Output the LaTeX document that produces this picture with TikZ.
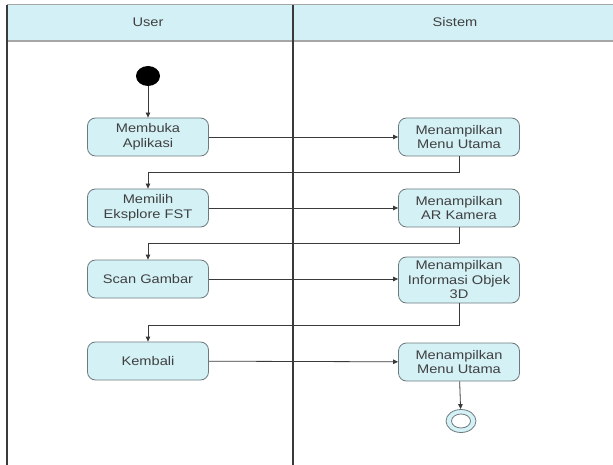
\documentclass[tikz,border=0pt]{standalone}
\usepackage{fontspec}
\setmainfont{Liberation Sans}[FakeStretch=1.17]
\usetikzlibrary{arrows.meta,shapes.geometric}
\definecolor{lanefill}{HTML}{D2F0F5}
\definecolor{boxfill}{HTML}{D4F1F6}
\definecolor{boxline}{HTML}{6E7B7E}
\definecolor{lineclr}{HTML}{3A3A3A}
\definecolor{txtclr}{HTML}{404040}
\begin{document}
\begin{tikzpicture}[x=1pt,y=-1pt,
  act/.style={draw=boxline,fill=boxfill,rounded corners=8pt,line width=0.8pt,
    minimum width=121pt,minimum height=38pt,align=center,inner sep=1pt,
    text=txtclr,font=\fontsize{12.5}{14.5}\selectfont},
  flow/.style={draw=lineclr,line width=0.8pt,-{Triangle[length=5pt,width=4.5pt]}},
  lane/.style={draw=lineclr,line width=1.2pt},
  hdr/.style={text=txtclr,font=\fontsize{12.5}{14.5}\selectfont}]
\useasboundingbox (0,0) rectangle (613,465);
% swimlane header
\fill[lanefill] (7,5) rectangle (613,41);
\draw[gray!70,line width=1pt] (7,5) -- (613,5);
\draw[gray!70,line width=1.4pt] (7,41) -- (613,41);
\draw[lane] (7,5) -- (7,465);
\draw[lane] (293,5) -- (293,465);
\node[hdr] (huser) at (148,22) {User};
\node[hdr] (hsis) at (455,22) {Sistem};
% start and end
\node[ellipse,fill=black,minimum width=24pt,minimum height=20pt,inner sep=0pt] (start) at (148,76) {};
\node[ellipse,draw=boxline,fill=boxfill,line width=0.8pt,minimum width=30pt,minimum height=23pt,inner sep=0pt] (stop) at (461,421) {};
\node[ellipse,draw=boxline,fill=white,line width=0.8pt,minimum width=19pt,minimum height=14pt,inner sep=0pt] (stopin) at (461,421) {};
% activities, user lane
\node[act] (a1) at (148,137) {Membuka\\Aplikasi};
\node[act] (a2) at (148,208) {Memilih\\Eksplore FST};
\node[act] (a3) at (148,279) {Scan Gambar};
\node[act] (a4) at (148,361) {Kembali};
% activities, system lane
\node[act] (b1) at (459,137) {Menampilkan\\Menu Utama};
\node[act] (b2) at (459,208) {Menampilkan\\AR Kamera};
\node[act,minimum height=46pt] (b3) at (459,280) {Menampilkan\\Informasi Objek\\3D};
\node[act] (b4) at (459,362) {Menampilkan\\Menu Utama};
% flows
\draw[flow] (start) -- (a1);
\draw[flow] (a1) -- (b1);
\draw[flow] (b1.south) -- ++(0,16) -| (a2.north);
\draw[flow] (a2) -- (b2);
\draw[flow] (b2.south) -- ++(0,16) -| (a3.north);
\draw[flow] (a3.east) -- (a3.east -| b3.west);
\draw[flow] (b3.south) -- ++(0,22) -| (a4.north);
\draw[flow] (a4) -- (b4);
\draw[flow] (b4) -- (stop);
\end{tikzpicture}
\end{document}
